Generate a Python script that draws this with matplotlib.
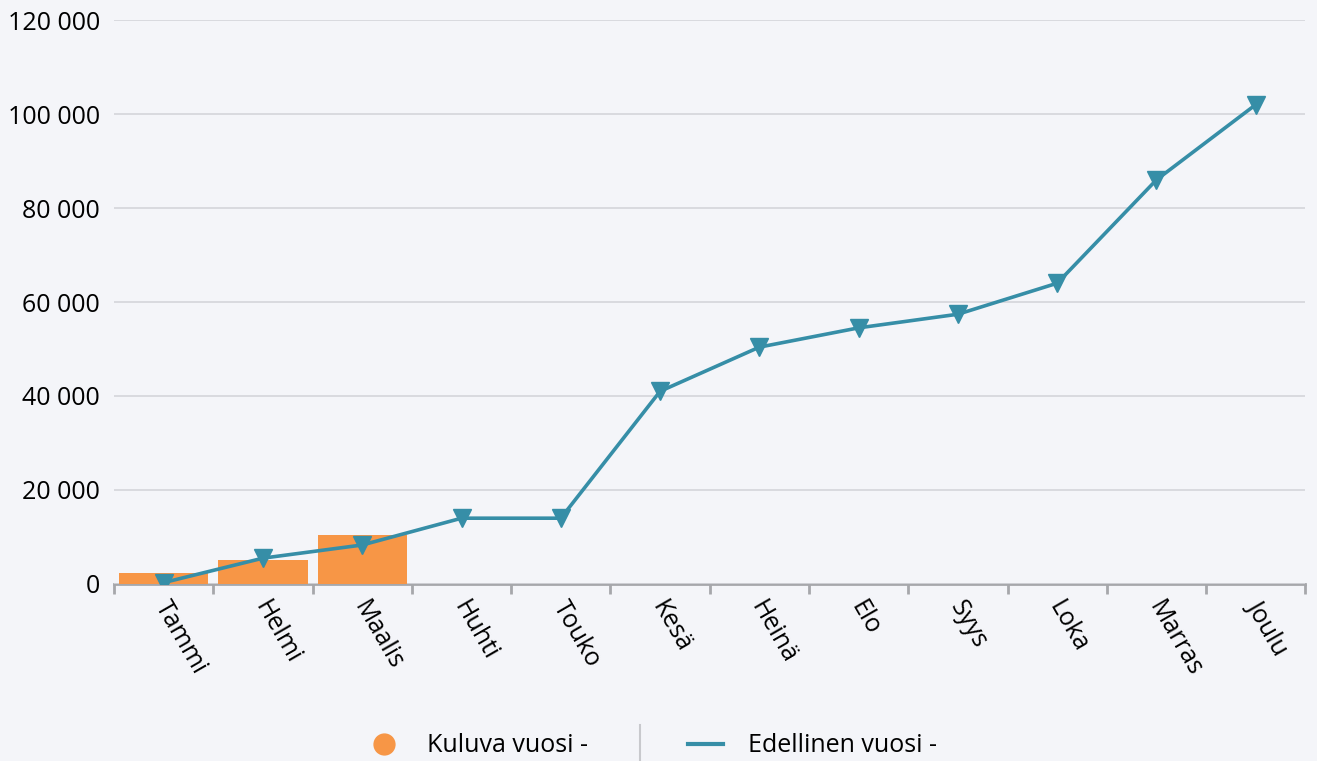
import numpy as np
import matplotlib.pyplot as plt
import matplotlib.transforms as mtransforms
from matplotlib.lines import Line2D
from matplotlib.ticker import FuncFormatter, MultipleLocator

plt.rcParams['font.family'] = ['Open Sans', 'DejaVu Sans']

# data
months = ['Tammi', 'Helmi', 'Maalis', 'Huhti', 'Touko', 'Kesä',
          'Heinä', 'Elo', 'Syys', 'Loka', 'Marras', 'Joulu']
current_year = [2300, 5000, 10400]
previous_year = [300, 5500, 8300, 14000, 14000, 41000,
                 50400, 54500, 57400, 64000, 86000, 102000]

BG = '#f4f5f9'
ORANGE = '#f79646'
TEAL = '#368ea7'
GRID = '#d4d5da'
AXIS = '#a6a7ab'
FS = 18

fig = plt.figure(figsize=(13.17, 7.61), dpi=100, facecolor=BG)
ax = fig.add_axes([0.0866, 0.2326, 0.9046, 0.7411], facecolor=BG)

x = np.arange(len(months))
ax.bar(x[:len(current_year)], current_year, width=0.9, color=ORANGE, zorder=2)
ax.plot(x, previous_year, color=TEAL, lw=2.6, marker='v', markersize=13, zorder=3)

ax.set_xlim(-0.5, len(months) - 0.5)
ax.set_ylim(0, 120000)
ax.yaxis.set_major_locator(MultipleLocator(20000))
ax.yaxis.set_major_formatter(FuncFormatter(lambda v, p: f'{int(v):,}'.replace(',', ' ')))
ax.grid(axis='y', color=GRID, lw=1.2, zorder=0)
ax.tick_params(axis='y', length=0, pad=10, labelsize=FS)

# month labels at centres, tick marks at the boundaries
ax.set_xticks(x)
ax.set_xticklabels(months, rotation=-60, ha='left', va='top', rotation_mode='anchor', fontsize=FS)
ax.tick_params(axis='x', which='major', length=0, pad=9)
shift = mtransforms.ScaledTranslation(8 / 100, 0, fig.dpi_scale_trans)
for lbl in ax.get_xticklabels():
    lbl.set_transform(lbl.get_transform() + shift)
ax.set_xticks(np.arange(-0.5, len(months)), minor=True)
ax.tick_params(axis='x', which='minor', length=7, width=2, color=AXIS)

for s in ['top', 'right', 'left']:
    ax.spines[s].set_visible(False)
ax.spines['bottom'].set_color(AXIS)
ax.spines['bottom'].set_linewidth(2)
ax.spines['bottom'].set_zorder(1)

handles = [
    Line2D([], [], ls='none', marker='o', markersize=15, color=ORANGE),
    Line2D([], [], color=TEAL, lw=3),
]
fig.legend(handles, ['Kuluva vuosi -', 'Edellinen vuosi -'], loc='lower center',
           bbox_to_anchor=(0.495, -0.026), ncol=2, frameon=False, fontsize=FS,
           columnspacing=4.0, handlelength=1.4, handletextpad=1.0)
fig.add_artist(Line2D([0.486, 0.486], [0.0, 0.047], color='#c8c9cd', lw=1.5,
                      transform=fig.transFigure))

fig.savefig('out.png', dpi=100, facecolor=BG)
